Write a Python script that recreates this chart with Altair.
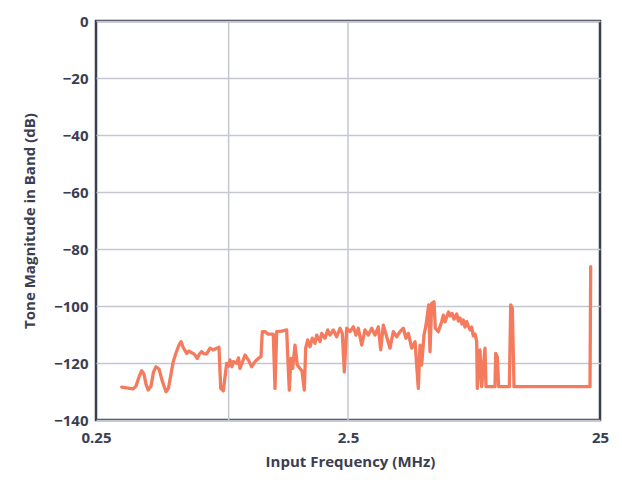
import altair as alt
import pandas as pd

# Input frequency (MHz)
freq_mhz = [
    0.3162, 0.3349, 0.3506, 0.3603, 0.3703, 0.3796, 0.3876, 0.3948, 0.4031, 0.4132,
    0.4228, 0.4325, 0.4446, 0.4569, 0.4739, 0.4849, 0.4961, 0.5066, 0.5193, 0.5337,
    0.5436, 0.5536, 0.5726, 0.5848, 0.5994, 0.6121, 0.6309, 0.6437, 0.6568, 0.6707,
    0.6874, 0.7085, 0.7282, 0.7532, 0.7692, 0.7813, 0.8000, 0.8253, 0.8390, 0.8506,
    0.8663, 0.8766, 0.9043, 0.9193, 0.9319, 0.9534, 0.9754, 1.0053, 1.0370, 1.0688,
    1.1015, 1.1290, 1.1425, 1.1710, 1.2069, 1.2632, 1.2831, 1.3031, 1.3640, 1.4278,
    1.4409, 1.4621, 1.4850, 1.5083, 1.5403, 1.5730, 1.6122, 1.6420, 1.6769, 1.6984,
    1.7298, 1.7666, 1.8041, 1.8491, 1.8781, 1.9357, 1.9660, 2.0262, 2.0768, 2.1210,
    2.1859, 2.2549, 2.3239, 2.3733, 2.4171, 2.4705, 2.5461, 2.6241, 2.6897, 2.7468,
    2.8337, 2.9204, 3.0098, 3.1048, 3.2000, 3.2981, 3.3712, 3.4522, 3.5613, 3.6695,
    3.7818, 3.9014, 4.0209, 4.1439, 4.2479, 4.3381, 4.4752, 4.6122, 4.7534, 4.8268,
    4.9025, 5.0067, 5.0989, 5.2266, 5.2890, 5.3718, 5.4858, 5.5513, 5.7057, 5.8859,
    5.9723, 6.0658, 6.1609, 6.2630, 6.3493, 6.4664, 6.5856, 6.7500, 6.8620, 6.9564,
    7.0848, 7.1694, 7.2817, 7.3956, 7.5045, 7.6220, 7.7412, 7.8552, 7.9782, 8.1031,
    8.1477, 8.3512, 8.4820, 8.7416, 8.8218, 9.5780, 9.6393, 9.7814, 9.9075, 10.916,
    11.057, 11.219, 11.395, 22.817, 22.963,
]

# Tone magnitude in band (dB)
tone_db = [
    -128.5, -128.8, -129.1, -128.1, -124.9, -122.7, -123.9, -127.4, -129.5, -128.1,
    -123.2, -121.3, -122.1, -126.0, -130.1, -128.8, -123.9, -119.5, -116.5, -113.7,
    -112.5, -114.4, -116.6, -115.8, -116.4, -116.8, -118.4, -116.8, -116.0, -116.8,
    -116.8, -114.8, -115.4, -114.8, -114.5, -128.9, -129.8, -120.1, -121.1, -118.9,
    -121.3, -119.5, -120.1, -118.2, -121.9, -119.6, -117.2, -118.9, -121.3, -119.5,
    -118.4, -117.8, -109.0, -109.0, -109.9, -109.9, -128.9, -109.0, -108.8, -108.4,
    -117.2, -129.5, -118.4, -121.9, -113.7, -120.7, -121.9, -122.8, -129.5, -114.8,
    -111.9, -114.3, -111.3, -113.1, -110.2, -112.5, -109.6, -111.3, -108.4, -110.2,
    -108.4, -110.8, -107.8, -109.6, -123.1, -107.8, -109.0, -107.3, -110.2, -107.8,
    -113.7, -108.4, -110.2, -107.8, -110.2, -107.3, -115.4, -106.7, -110.8, -114.8,
    -109.0, -110.8, -109.0, -107.8, -111.3, -109.6, -114.8, -112.5, -128.9, -113.7,
    -120.7, -110.2, -106.7, -99.6, -116.0, -99.1, -98.5, -107.8, -109.0, -105.5,
    -103.2, -105.6, -103.8, -102.1, -103.5, -102.6, -104.6, -102.8, -105.3, -104.2,
    -106.3, -104.9, -107.4, -105.5, -107.0, -108.4, -107.4, -110.5, -109.8, -112.5,
    -128.9, -115.4, -128.3, -114.8, -128.3, -128.3, -116.6, -117.9, -128.3, -128.3,
    -99.6, -100.8, -128.3, -128.3, -86.2,
]

x_tick_values = [0.25, 2.5, 25]
x_grid_values = [0.84, 2.5]
y_tick_values = [-140, -120, -100, -80, -60, -40, -20, 0]

df = pd.DataFrame({"f": freq_mhz, "db": tone_db})
grid_df = pd.DataFrame({"f": x_grid_values})

TEXT = "#3b3e50"
GRID = "#c4c6d1"
LINE = "#f47b5e"
FONT = "Open Sans"

x_enc = alt.X(
    "f:Q",
    scale=alt.Scale(type="log", domain=[0.25, 25]),
    axis=alt.Axis(
        values=x_tick_values, format="~g", title="Input Frequency (MHz)",
        grid=False, ticks=False, domain=False, labelFlush=False,
        labelPadding=10, titleX=254, titleY=41, titleBaseline="middle",
        titleAlign="center",
    ),
)

grid = alt.Chart(grid_df).mark_rule(color=GRID, strokeWidth=1.5).encode(x=x_enc)

line = alt.Chart(df).mark_line(
    color=LINE, strokeWidth=3.3, strokeJoin="round", strokeCap="round"
).encode(
    x=x_enc,
    y=alt.Y(
        "db:Q",
        scale=alt.Scale(domain=[-140, 0]),
        axis=alt.Axis(
            values=y_tick_values, title="Tone Magnitude in Band (dB)",
            grid=True, gridColor=GRID, gridWidth=1.5, ticks=False, domain=False,
            labelPadding=8, titleX=-67, titleY=199.5, titleAngle=270,
            titleAlign="center", titleBaseline="middle",
        ),
    ),
)

chart = alt.layer(grid, line).properties(
    width=504, height=399,
    autosize=alt.AutoSizeParams(type="none"),
    padding={"left": 88, "top": 13, "right": 14, "bottom": 52},
).configure_view(
    stroke=TEXT, strokeWidth=2.5
).configure_axis(
    labelFont=FONT, labelFontSize=15, labelFontWeight="bold", labelColor=TEXT,
    titleFont=FONT, titleFontSize=15, titleFontWeight="bold", titleColor=TEXT,
)

chart.save("out.html", embed_options={"renderer": "svg", "actions": False})
